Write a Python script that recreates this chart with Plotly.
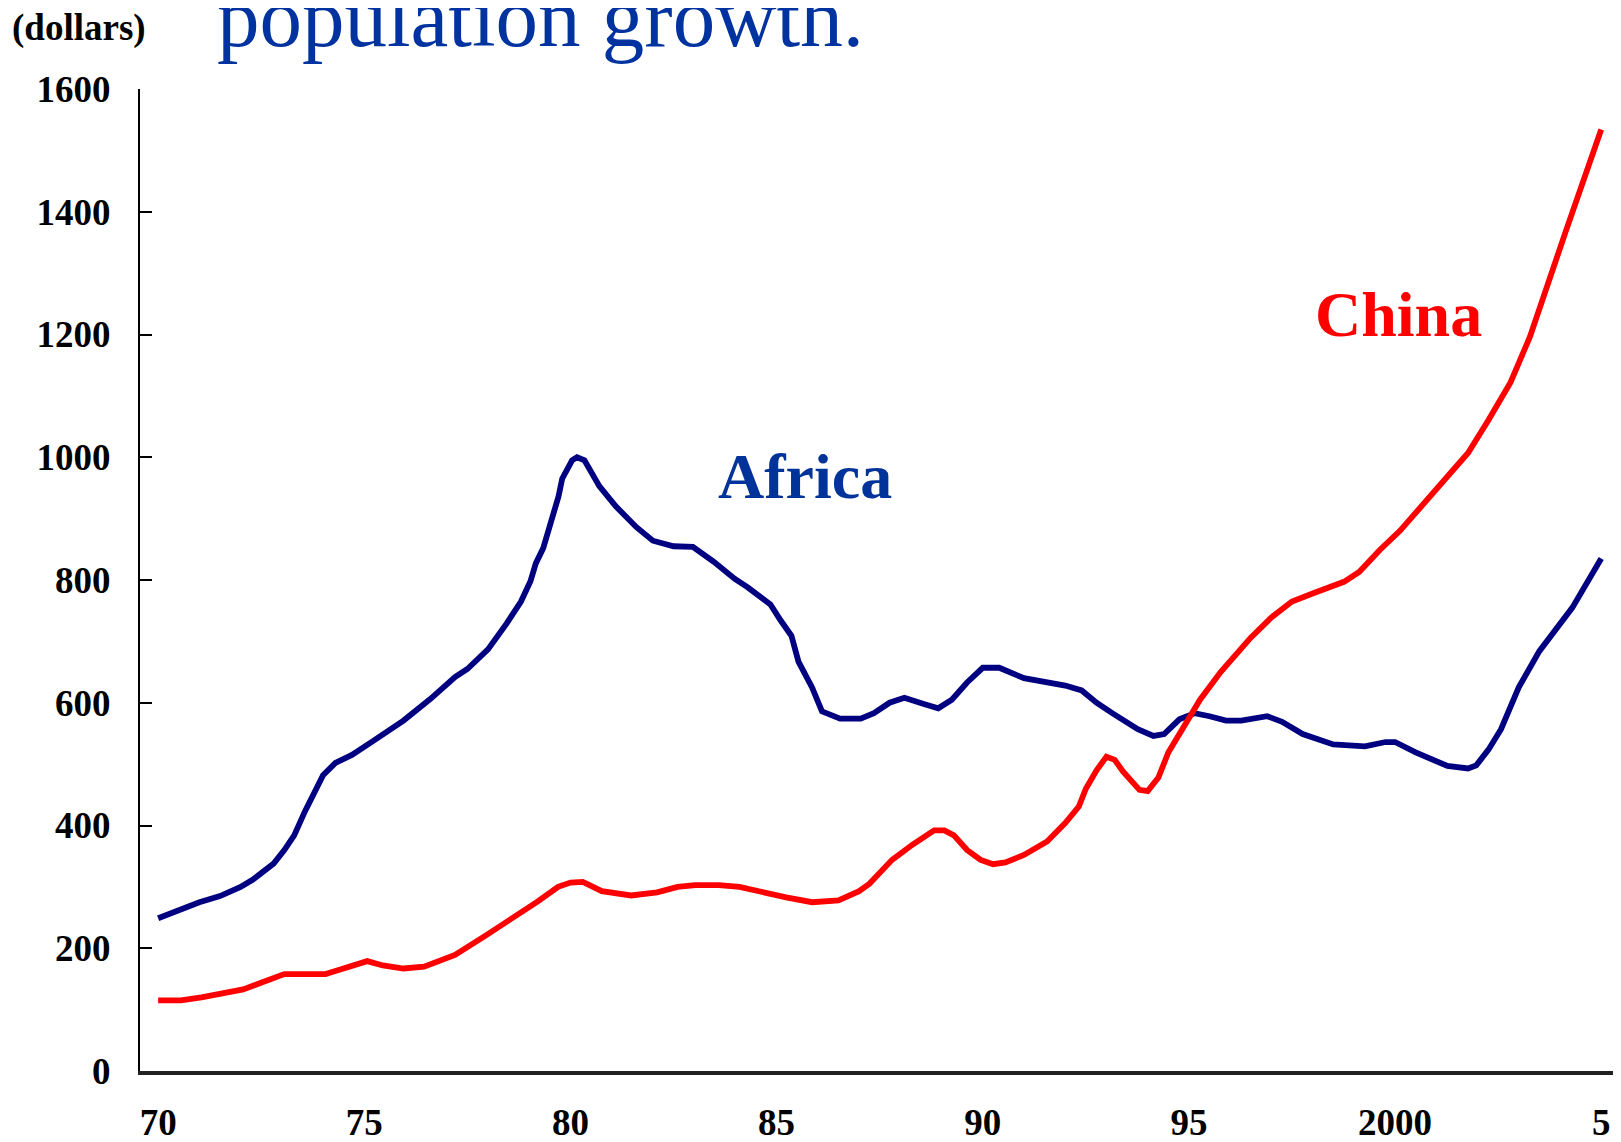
import plotly.graph_objects as go

# Africa: GDP per capita (dollars)
africa_year = [1970, 1971, 1971.5, 1972, 1972.3, 1972.8, 1973.06, 1973.3, 1973.56, 1973.8,
               1974.0, 1974.3, 1974.7, 1975.2, 1975.95, 1976.6, 1977.2, 1977.5, 1978.0, 1978.45,
               1978.8, 1979.03, 1979.16, 1979.34, 1979.46, 1979.59, 1979.71, 1979.8, 1980.04, 1980.16,
               1980.34, 1980.7, 1981.1, 1981.6, 1982.0, 1982.5, 1982.97, 1983.47, 1983.98, 1984.3,
               1984.85, 1985.1, 1985.36, 1985.53, 1985.86, 1986.1, 1986.54, 1987.04, 1987.36, 1987.74,
               1988.1, 1988.57, 1988.92, 1989.25, 1989.62, 1990.0, 1990.4, 1991.0, 1991.4, 1992.0,
               1992.4, 1992.76, 1993.14, 1993.76, 1994.14, 1994.4, 1994.77, 1995.14, 1995.5, 1995.9,
               1996.27, 1996.9, 1997.26, 1997.76, 1998.5, 1999.27, 1999.77, 2000.0, 2000.5, 2001.27,
               2001.77, 2001.97, 2002.27, 2002.57, 2003.0, 2003.5, 2004.3, 2005.0]
africa_value = [249, 275, 285, 300, 312, 338, 360, 384, 423, 455,
                482, 502, 515, 537, 571, 606, 642, 655, 687, 729,
                765, 798, 827, 852, 877, 911, 936, 965, 995, 1000,
                995, 953, 920, 886, 864, 855, 854, 830, 802, 788,
                760, 734, 709, 667, 625, 586, 574, 574, 583, 600,
                608, 598, 591, 605, 633, 657, 657, 640, 635, 628,
                620, 600, 583, 557, 546, 549, 573, 583, 578, 571,
                571, 578, 569, 549, 532, 529, 536, 536, 519, 497,
                493, 498, 524, 557, 625, 684, 755, 835]

# China: GDP per capita (dollars)
china_year = [1970, 1970.55, 1971.05, 1972.06, 1973.06, 1974.06, 1974.3, 1974.8, 1975.07, 1975.45,
              1975.95, 1976.45, 1977.2, 1977.95, 1978.7, 1979.2, 1979.7, 1980.0, 1980.3, 1980.76,
              1981.47, 1982.1, 1982.6, 1983.02, 1983.6, 1984.1, 1985.23, 1985.86, 1986.5, 1987.0,
              1987.25, 1987.8, 1988.3, 1988.82, 1989.07, 1989.3, 1989.62, 1989.95, 1990.25, 1990.55,
              1991.0, 1991.56, 1992.0, 1992.33, 1992.5, 1992.76, 1993.0, 1993.2, 1993.4, 1993.56,
              1993.8, 1994.0, 1994.26, 1994.5, 1994.9, 1995.27, 1995.77, 1996.5, 1997.0, 1997.5,
              1998.0, 1998.76, 1999.13, 1999.63, 2000.13, 2000.46, 2001.0, 2001.77, 2002.27, 2002.8,
              2003.27, 2003.64, 2004.14, 2005.0]
china_value = [115, 115, 120, 133, 158, 158, 163, 175, 179, 172,
               167, 170, 189, 221, 253, 276, 300, 307, 308, 293,
               286, 291, 300, 303, 303, 300, 283, 275, 278, 293,
               305, 344, 369, 392, 392, 384, 360, 344, 337, 340,
               352, 374, 404, 431, 460, 490, 512, 507, 488, 477,
               458, 456, 478, 519, 566, 605, 650, 706, 739, 765,
               778, 797, 813, 849, 881, 906, 948, 1007, 1061, 1122,
               1196, 1270, 1368, 1534]

x_tickvals = [1970, 1975, 1980, 1985, 1990, 1995, 2000, 2005]
x_ticktext = ["70", "75", "80", "85", "90", "95", "2000", "5"]
y_tickvals = [0, 200, 400, 600, 800, 1000, 1200, 1400, 1600]

SERIF = "Liberation Serif, Times New Roman, serif"

fig = go.Figure()
fig.add_trace(go.Scatter(x=africa_year, y=africa_value, mode="lines",
                         line=dict(color="#000080", width=5.8), name="Africa",
                         showlegend=False))
fig.add_trace(go.Scatter(x=china_year, y=china_value, mode="lines",
                         line=dict(color="#FF0000", width=5.8), name="China",
                         showlegend=False))

fig.update_layout(
    width=1613, height=1134,
    margin=dict(l=132, r=0, t=81, b=71),
    paper_bgcolor="white", plot_bgcolor="white",
    font=dict(family=SERIF, color="black"),
    xaxis=dict(range=[1969.56, 2005.48], tickvals=x_tickvals, ticktext=x_ticktext,
               showgrid=False, zeroline=False, showline=True, linecolor="#222222",
               linewidth=3.5, ticks="", ticklabelstandoff=16, automargin=False,
               tickfont=dict(family=SERIF, size=37, color="black", weight="bold")),
    yaxis=dict(range=[0, 1600], tickvals=y_tickvals, showgrid=False, zeroline=False,
               showline=True, linecolor="black", linewidth=2, ticks="inside",
               ticklen=12, tickwidth=2, tickcolor="black", ticklabelstandoff=20,
               automargin=False,
               tickfont=dict(family=SERIF, size=37, color="black", weight="bold")),
    annotations=[
        dict(text="population growth.", xref="paper", yref="paper", x=0.0506, y=1.0735,
             xanchor="left", yanchor="middle", showarrow=False,
             font=dict(family=SERIF, size=85, color="#0033A0")),
        dict(text="(dollars)", xref="paper", yref="paper", x=-0.0877, y=1.062,
             xanchor="left", yanchor="middle", showarrow=False,
             font=dict(family=SERIF, size=37, color="black", weight="bold")),
        dict(text="Africa", x=1985.69, y=969, xanchor="center", yanchor="middle",
             showarrow=False, font=dict(family=SERIF, size=64, color="#003399", weight="bold")),
        dict(text="China", x=2000.08, y=1232, xanchor="center", yanchor="middle",
             showarrow=False, font=dict(family=SERIF, size=64, color="#FF0000", weight="bold")),
    ],
)

fig.write_html("out.html")
